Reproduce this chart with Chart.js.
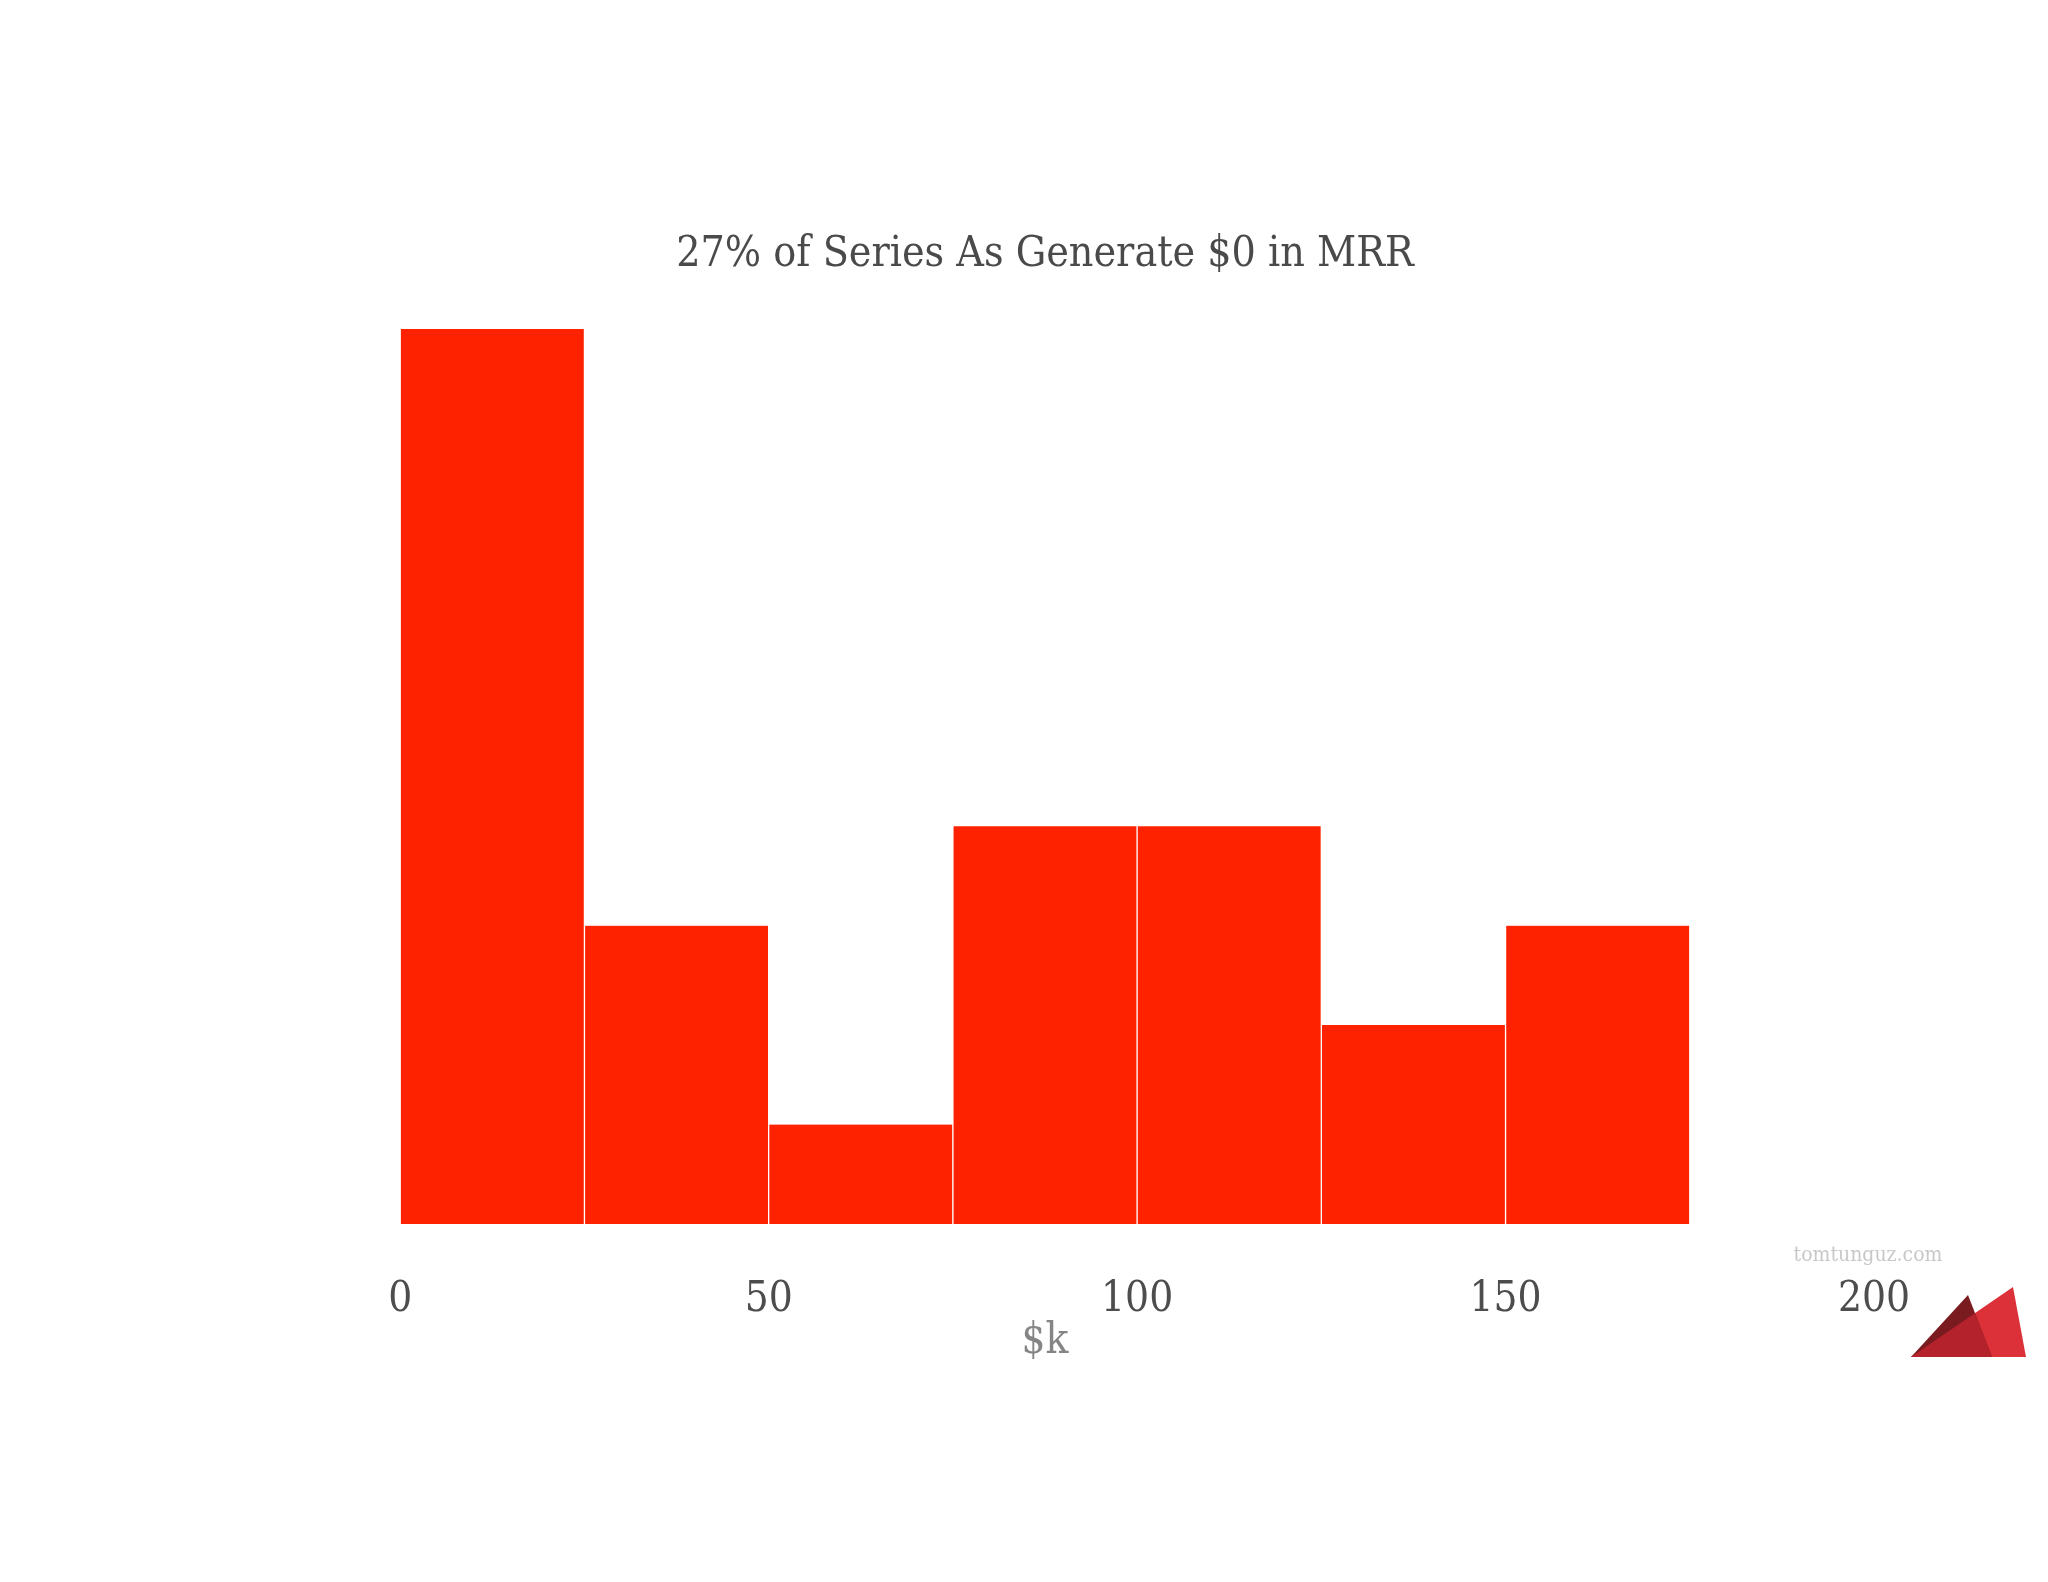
<!DOCTYPE html>
<html>
<head>
<meta charset="utf-8">
<script src="https://cdn.jsdelivr.net/npm/chart.js@4.4.1/dist/chart.umd.min.js"></script>
<style>
  html, body { margin: 0; padding: 0; background: #ffffff; }
  #wrap { width: 2048px; height: 1582px; }
</style>
</head>
<body>
<div id="wrap"><canvas id="chart" width="2048" height="1582"></canvas></div>
<script>
// Dữ liệu histogram (MRR theo $k)
const binStarts = [0, 25, 50, 75, 100, 125, 150];
const binWidth = 25;
const counts = [9, 3, 1, 4, 4, 2, 3];
const xTicks = [0, 50, 100, 150, 200];

const titleText = '27% of Series As Generate $0 in MRR';
const xTitle = '$k';
const watermark = 'tomtunguz.com';

const slab = '"DejaVu Serif Condensed", "DejaVu Serif", serif';

// Logo + watermark ở góc phải dưới
const logoPlugin = {
    id: 'logo',
    afterDraw(chart) {
        const c = chart.ctx;
        c.save();
        c.font = '21px ' + slab;
        c.fillStyle = '#c8c8c8';
        c.textAlign = 'center';
        c.textBaseline = 'middle';
        c.fillText(watermark, 1868, 1256);

        const dark = [[1911, 1357], [1968, 1295], [1992, 1357]];
        const light = [[1911, 1357], [2013, 1287], [2026, 1357]];
        const path = pts => {
            c.beginPath();
            c.moveTo(pts[0][0], pts[0][1]);
            pts.slice(1).forEach(p => c.lineTo(p[0], p[1]));
            c.closePath();
        };
        path(light); c.fillStyle = '#dc3139'; c.fill();
        path(dark); c.fillStyle = '#7a1b20'; c.fill();
        path(light); c.clip();
        path(dark); c.fillStyle = '#b4222b'; c.fill();
        c.restore();
    }
};

const ctx = document.getElementById('chart').getContext('2d');
const chart = new Chart(ctx, {
    type: 'bar',
    data: {
        datasets: [{
            label: 'count',
            data: binStarts.map((s, i) => ({ x: s + binWidth / 2, y: counts[i] })),
            backgroundColor: '#ff2200',
            borderColor: '#ffffff',
            borderWidth: { left: 1, right: 1, top: 0, bottom: 0 },
            barPercentage: 1,
            categoryPercentage: 1,
            borderSkipped: false
        }]
    },
    options: {
        responsive: false,
        animation: false,
        layout: { padding: { top: 229, left: 216, right: 174, bottom: 217 } },
        plugins: {
            legend: { display: false },
            tooltip: { enabled: false },
            title: {
                display: true,
                text: titleText,
                color: '#4a4a4a',
                font: { family: slab, size: 42.5, weight: 'normal', lineHeight: 1.2 },
                padding: { top: 0, bottom: 49 }
            }
        },
        scales: {
            x: {
                type: 'linear',
                min: -25,
                max: 200,
                offset: false,
                grid: { display: false, tickLength: 55 },
                border: { display: false },
                afterBuildTicks: axis => { axis.ticks = xTicks.map(v => ({ value: v })); },
                ticks: {
                    color: '#4d4d4d',
                    padding: 0,
                    maxRotation: 0,
                    font: { family: slab, size: 42, lineHeight: 1 }
                },
                title: {
                    display: true,
                    text: xTitle,
                    color: '#858585',
                    padding: { top: 0, bottom: 2 },
                    font: { family: slab, size: 42, lineHeight: 1 }
                }
            },
            y: {
                display: false,
                min: 0,
                max: 9
            }
        }
    },
    plugins: [logoPlugin]
});
</script>
</body>
</html>
